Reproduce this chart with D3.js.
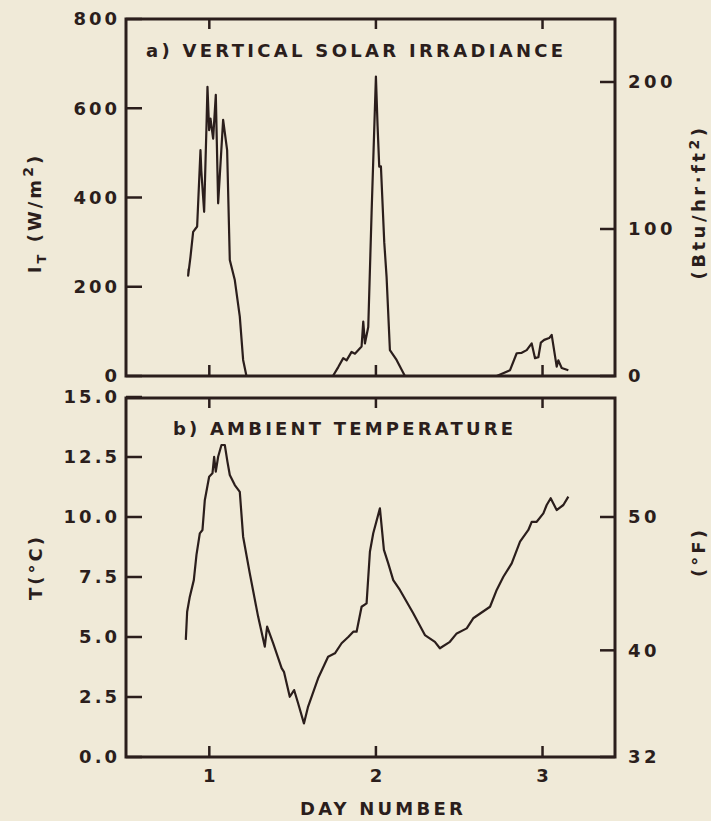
<!DOCTYPE html>
<html>
<head>
<meta charset="utf-8">
<script src="https://cdn.jsdelivr.net/npm/d3@7"></script>
<style>
  body { margin: 0; background: #f0ead8; }
  svg { display: block; }
  text { font-family: "DejaVu Sans", sans-serif; font-weight: bold; fill: #2b1e1c; }
</style>
</head>
<body>
<svg id="chart"></svg>
<script>
// irradiance, panel a
const irrDay = [0.876, 0.873, 0.887, 0.903, 0.927, 0.947, 0.952, 0.969, 0.983, 0.989, 0.999, 1.007, 1.013, 1.023, 1.039, 1.053, 1.083, 1.107, 1.123, 1.153, 1.183, 1.203, 1.223,
  1.742, 1.774, 1.804, 1.824, 1.854, 1.874, 1.914, 1.924, 1.934, 1.954, 1.974, 2.000, 2.010, 2.020, 2.030, 2.050, 2.064, 2.084, 2.124, 2.174,
  2.725, 2.805, 2.845, 2.875, 2.905, 2.935, 2.955, 2.975, 2.990, 3.010, 3.040, 3.055, 3.085, 3.095, 3.115, 3.155];
const irrVal = [240, 225, 267, 323, 335, 506, 460, 368, 559, 648, 551, 577, 560, 532, 630, 387, 574, 506, 260, 215, 133, 36, 0,
  0, 20, 40, 35, 54, 50, 66, 122, 73, 110, 365, 671, 560, 469, 470, 300, 222, 58, 36, 0,
  0, 13, 51, 52, 58, 73, 40, 42, 75, 81, 85, 92, 21, 35, 18, 13];

// ambient temperature, panel b
const tempDay = [0.859, 0.867, 0.883, 0.907, 0.923, 0.943, 0.959, 0.973, 0.999, 1.019, 1.029, 1.039, 1.053, 1.073, 1.093, 1.109, 1.123, 1.153, 1.183, 1.203, 1.243, 1.293, 1.333, 1.347, 1.383, 1.434, 1.448, 1.483, 1.509, 1.533, 1.568, 1.593, 1.653, 1.713, 1.754, 1.794, 1.834, 1.864, 1.884, 1.914, 1.944, 1.964, 1.984, 2.024, 2.048, 2.074, 2.104, 2.144, 2.224, 2.294, 2.354, 2.384, 2.444, 2.485, 2.545, 2.584, 2.685, 2.725, 2.765, 2.815, 2.865, 2.915, 2.935, 2.965, 3.005, 3.025, 3.049, 3.085, 3.125, 3.155];
const tempVal = [4.88, 6.05, 6.68, 7.37, 8.42, 9.32, 9.46, 10.7, 11.68, 11.82, 12.51, 11.89, 12.51, 13.0, 13.0, 12.3, 11.75, 11.33, 11.05, 9.18, 7.65, 5.85, 4.6, 5.43, 4.74, 3.7, 3.55, 2.51, 2.79, 2.24, 1.4, 2.1, 3.28, 4.18, 4.32, 4.74, 5.0, 5.22, 5.22, 6.26, 6.4, 8.55, 9.32, 10.36, 8.63, 8.07, 7.37, 6.96, 5.99, 5.08, 4.8, 4.53, 4.8, 5.15, 5.36, 5.78, 6.26, 6.96, 7.51, 8.07, 8.97, 9.46, 9.8, 9.8, 10.15, 10.5, 10.78, 10.29, 10.5, 10.85];

const dayTicks = [1, 2, 3];
const irrTicks = [0, 200, 400, 600, 800];
const btuTicks = [0, 100, 200];
const tempTicks = [0, 2.5, 5, 7.5, 10, 12.5, 15];
const fTicks = [32, 40, 50];

const width = 711;
const height = 821;
const ink = "#2b1e1c";
const left = 126;
const right = 615;

const svg = d3.select("#chart").attr("width", width).attr("height", height);

const x = d3.scaleLinear().domain([0.5, 3.435]).range([left, right]);

const yIrr = d3.scaleLinear().domain([0, 800]).range([376, 19]);
const yBtu = d3.scaleLinear().domain([0, 200]).range([376, 82]);
const yTemp = d3.scaleLinear().domain([0, 15]).range([757, 397]);
const yF = d3.scaleLinear().domain([32, 59]).range([757, 397]);

const line = d3.line();

const drawPanel = (yL, yR, top, bottom, leftTicks, rightTicks, leftFmt, hasXLabels) => {
  const g = svg.append("g");

  // frame
  g.append("rect")
    .attr("x", left).attr("y", top)
    .attr("width", right - left).attr("height", bottom - top)
    .attr("fill", "none").attr("stroke", ink).attr("stroke-width", 3);

  // x ticks, inward on top and bottom
  dayTicks.forEach((d) => {
    g.append("line").attr("x1", x(d)).attr("x2", x(d))
      .attr("y1", top).attr("y2", top + 10)
      .attr("stroke", ink).attr("stroke-width", 2.5);
    g.append("line").attr("x1", x(d)).attr("x2", x(d))
      .attr("y1", bottom).attr("y2", bottom - 11)
      .attr("stroke", ink).attr("stroke-width", 2.5);
    if (hasXLabels) {
      g.append("text").attr("x", x(d)).attr("y", bottom + 25)
        .attr("text-anchor", "middle").attr("font-size", "18px")
        .text(d);
    }
  });

  // left axis
  leftTicks.forEach((v) => {
    g.append("line").attr("x1", left).attr("x2", left + 16)
      .attr("y1", yL(v)).attr("y2", yL(v))
      .attr("stroke", ink).attr("stroke-width", 2.5);
    g.append("text").attr("x", 120).attr("y", yL(v)).attr("dy", "0.36em")
      .attr("text-anchor", "end").attr("font-size", "18px")
      .attr("letter-spacing", "3px")
      .text(leftFmt(v));
  });

  // right axis
  rightTicks.forEach((v) => {
    g.append("line").attr("x1", right).attr("x2", right - 15)
      .attr("y1", yR(v)).attr("y2", yR(v))
      .attr("stroke", ink).attr("stroke-width", 2.5);
    g.append("text").attr("x", 628).attr("y", yR(v)).attr("dy", "0.36em")
      .attr("text-anchor", "start").attr("font-size", "18px")
      .attr("letter-spacing", "3.5px")
      .text(v);
  });
  return g;
};

// panel a
const ga = drawPanel(yIrr, yBtu, 19, 376, irrTicks, btuTicks, (v) => v, false);
ga.append("path")
  .attr("d", line(irrDay.map((d, i) => [x(d), yIrr(irrVal[i])])))
  .attr("fill", "none").attr("stroke", ink).attr("stroke-width", 2.2)
  .attr("stroke-linejoin", "round");
ga.append("text").attr("x", 146).attr("y", 57)
  .attr("font-size", "18px").attr("letter-spacing", "3.3px")
  .text("a) VERTICAL SOLAR IRRADIANCE");

// panel b
const gb = drawPanel(yTemp, yF, 398, 757, tempTicks, fTicks, d3.format(".1f"), true);
gb.append("path")
  .attr("d", line(tempDay.map((d, i) => [x(d), yTemp(tempVal[i])])))
  .attr("fill", "none").attr("stroke", ink).attr("stroke-width", 2.2)
  .attr("stroke-linejoin", "round");
gb.append("text").attr("x", 173).attr("y", 435)
  .attr("font-size", "18px").attr("letter-spacing", "3.2px")
  .text("b) AMBIENT TEMPERATURE");

// axis titles
svg.append("text").attr("x", 383).attr("y", 815)
  .attr("text-anchor", "middle").attr("font-size", "18px")
  .attr("letter-spacing", "3.2px")
  .text("DAY NUMBER");

const lblA = svg.append("text")
  .attr("transform", "translate(41,213) rotate(-90)")
  .attr("text-anchor", "middle").attr("font-size", "18px")
  .attr("letter-spacing", "3px");
lblA.append("tspan").text("I");
lblA.append("tspan").attr("dy", 5).attr("font-size", "13px").text("T");
lblA.append("tspan").attr("dy", -5).text(" (W/m");
lblA.append("tspan").attr("dy", -8).attr("font-size", "14px").text("2");
lblA.append("tspan").attr("dy", 8).text(")");

svg.append("text")
  .attr("transform", "translate(42,567) rotate(-90)")
  .attr("text-anchor", "middle").attr("font-size", "18px")
  .attr("letter-spacing", "3px")
  .text("T(°C)");

const lblB = svg.append("text")
  .attr("transform", "translate(705,202) rotate(-90)")
  .attr("text-anchor", "middle").attr("font-size", "18px")
  .attr("letter-spacing", "3.5px");
lblB.append("tspan").text("(Btu/hr·ft");
lblB.append("tspan").attr("dy", -6).attr("font-size", "14px").text("2");
lblB.append("tspan").attr("dy", 6).text(")");

svg.append("text")
  .attr("transform", "translate(705,552) rotate(-90)")
  .attr("text-anchor", "middle").attr("font-size", "18px")
  .attr("letter-spacing", "3px")
  .text("(°F)");
</script>
</body>
</html>
